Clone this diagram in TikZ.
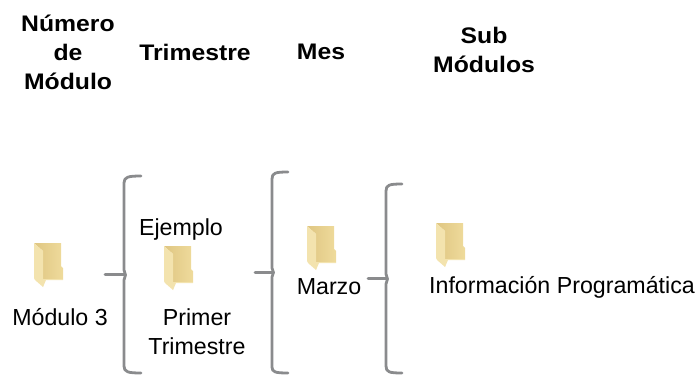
\documentclass[tikz,border=0pt]{standalone}
\usepackage{fontspec}
\setmainfont{Liberation Sans}
\newfontfamily\headfont[FakeStretch=1.1]{Liberation Sans Bold}
\definecolor{braceg}{HTML}{8A8B8D}
\definecolor{foldA}{HTML}{F3E3AE}
\definecolor{foldB}{HTML}{DFC682}
\definecolor{foldC}{HTML}{EFDB9C}
\tikzset{
  x=1pt,y=-1pt,
  lab/.style={font=\fontsize{23.2}{29}\selectfont,align=center,inner sep=0pt,text=black},
  head/.style={font=\fontsize{22.5}{29}\headfont,align=center,inner sep=0pt,text=black},
  bracket/.style={draw=braceg,line width=2.8pt,line cap=round,line join=round},
  pics/folder/.style={code={
    \path[left color=foldB,right color=foldC]
      (0,0) -- (27,0) -- (27,23) -- (29,25) -- (29,36) -- (9,36) -- (9,8) -- cycle;
    \path[fill=foldA] (0,0) -- (9,8) -- (9,44) -- (1,37) -- (0,35) -- cycle;
    \path[fill=foldA] (9,36) -- (29,36) -- (29,37) -- (12,37) -- (9,44) -- cycle;
  }}
}
\begin{document}
\begin{tikzpicture}
\useasboundingbox (0,0) rectangle (700,375);
\node[head] (h1) at (68,52) {Número\\de\\Módulo};
\node[head] (h2) at (195,52) {Trimestre};
\node[head] (h3) at (321,52) {Mes};
\node[head] (h4) at (484,50) {Sub\\Módulos};

\pic at (34,243) {folder};
\pic at (164,246) {folder};
\pic at (307,226) {folder};
\pic at (436,223) {folder};

\node[lab] (m3) at (60,317) {Módulo 3};
\node[lab] (ej) at (181,229) {Ejemplo};
\node[lab] (pt) at (197,332) {Primer\\Trimestre};
\node[lab] (mz) at (329,287) {Marzo};
\node[lab] (ip) at (562,287) {Información Programática};

% first bracket
\draw[bracket] (141,176) .. controls (128,176) and (124,177) .. (124,183) -- (124,270)
  -- (125.5,275) -- (124,280) -- (124,366)
  .. controls (124,372) and (128,373) .. (141,373);
\draw[bracket] (105,274.5) -- (125,274.5);
% second bracket
\draw[bracket] (288,172) .. controls (275,172) and (272,173) .. (272,179) -- (272,268)
  -- (273.5,272.5) -- (272,277) -- (272,367)
  .. controls (272,372) and (275,373) .. (288,373);
\draw[bracket] (255,272.5) -- (273,272.5);
% third bracket
\draw[bracket] (402,184) .. controls (389,184) and (386,185) .. (386,191) -- (386,274)
  -- (387.5,279) -- (386,284) -- (386,366)
  .. controls (386,372) and (389,373) .. (402,373);
\draw[bracket] (368,278.5) -- (387,278.5);
\end{tikzpicture}
\end{document}
